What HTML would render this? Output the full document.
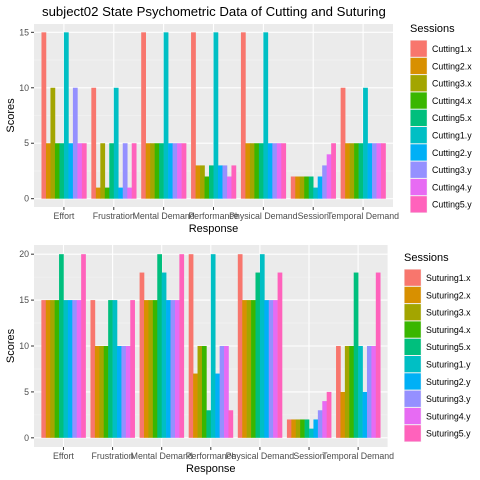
<!DOCTYPE html>
<html><head><meta charset="utf-8"><style>
body{margin:0;background:#fff}
svg{display:block;font-family:"Liberation Sans",sans-serif}
</style></head><body>
<svg id="c" width="480" height="480" xmlns="http://www.w3.org/2000/svg"></svg>
<script>
const categories=["Effort","Frustration","Mental Demand","Performance","Physical Demand","Session","Temporal Demand"];
const cuttingSeries=["Cutting1.x","Cutting2.x","Cutting3.x","Cutting4.x","Cutting5.x","Cutting1.y","Cutting2.y","Cutting3.y","Cutting4.y","Cutting5.y"];
const suturingSeries=["Suturing1.x","Suturing2.x","Suturing3.x","Suturing4.x","Suturing5.x","Suturing1.y","Suturing2.y","Suturing3.y","Suturing4.y","Suturing5.y"];
const colors=["#F8766D","#D89000","#A3A500","#39B600","#00BF7D","#00BFC4","#00B0F6","#9590FF","#E76BF3","#FF62BC"];
// per category, values for the 10 series
const cuttingValues=[
[15,5,10,5,5,15,5,10,5,5],
[10,1,5,1,5,10,1,5,1,5],
[15,5,5,5,5,15,5,5,5,5],
[15,3,3,2,3,15,3,3,2,3],
[15,5,5,5,5,15,5,5,5,5],
[2,2,2,2,2,1,2,3,4,5],
[10,5,5,5,5,10,5,5,5,5]];
const suturingValues=[
[15,15,15,15,20,15,15,15,15,20],
[15,10,10,10,15,15,10,10,10,15],
[18,15,15,15,20,18,15,15,15,20],
[20,7,10,10,3,20,7,10,10,3],
[20,15,15,15,18,20,15,15,15,18],
[2,2,2,2,2,1,2,3,4,5],
[10,5,10,10,18,10,5,10,10,18]];
const cuttingTicks=[0,5,10,15];
const suturingTicks=[0,5,10,15,20];

const svg=document.getElementById('c');
const NS="http://www.w3.org/2000/svg";
function mk(t,a,p){const e=document.createElementNS(NS,t);for(const k in a)e.setAttribute(k,a[k]);(p||svg).appendChild(e);return e;}

function panel(name,vals,series,ticks,ymax,L,R,T,B,legX,legY){
  const g=mk('g',{});
  
  
  const n=categories.length;
  const step=(R-L)/(n+0.2);
  const xc=i=>L+step*(0.6+i);
  const ylo=-ymax*0.05, yhi=ymax*1.05;
  const y=v=>B-(v-ylo)/(yhi-ylo)*(B-T);
  mk('rect',{x:L,y:T,width:R-L,height:B-T,fill:'#EBEBEB'},g);
  // minor grid
  for(let i=0;i<ticks.length-1;i++){const v=(ticks[i]+ticks[i+1])/2;mk('line',{x1:L,x2:R,y1:y(v),y2:y(v),stroke:'#F5F5F5','stroke-width':0.6},g);}
  ticks.forEach(v=>{
    mk('line',{x1:L,x2:R,y1:y(v),y2:y(v),stroke:'#fff','stroke-width':1.1},g);
    mk('line',{x1:L-3,x2:L,y1:y(v),y2:y(v),stroke:'#333','stroke-width':1},g);
    const t=mk('text',{x:L-5,y:y(v)+3,'text-anchor':'end','font-size':8.8,fill:'#4D4D4D'},g);
    t.textContent=v;
    
    
  });
  categories.forEach((c,i)=>{
    mk('line',{x1:xc(i),x2:xc(i),y1:T,y2:B,stroke:'#fff','stroke-width':1.1},g);
    mk('line',{x1:xc(i),x2:xc(i),y1:B,y2:B+3,stroke:'#333','stroke-width':1},g);
    const t=mk('text',{x:xc(i),y:B+12,'text-anchor':'middle','font-size':8.8,fill:'#4D4D4D'},g);
    t.textContent=c;
    
    
  });
  const bw=step*0.9/series.length;
  vals.forEach((row,i)=>{
    row.forEach((v,j)=>{
      const x0=xc(i)-step*0.45+j*bw;
      const r=mk('rect',{x:x0,y:y(v),width:bw+0.3,height:y(0)-y(v),fill:colors[j]},g);
      
      
    });
  });
  const xt=mk('text',{x:(L+R)/2,y:B+25,'text-anchor':'middle','font-size':11,fill:'#000'},g);
  xt.textContent='Response';
  
  
  const yt=mk('text',{x:0,y:0,'text-anchor':'middle','font-size':11,fill:'#000',transform:`translate(14,${(T+B)/2}) rotate(-90)`},g);
  yt.textContent='Scores';
  
  
  // legend
  const lg=mk('g',{},g);
  
  
  const lt=mk('text',{x:legX,y:legY,'font-size':11,fill:'#000'},lg);
  lt.textContent='Sessions';
  
  
  series.forEach((s,j)=>{
    const ky=legY+8+j*17.3;
    mk('rect',{x:legX,y:ky,width:17.3,height:17.3,fill:'#F2F2F2'},lg);
    const k=mk('rect',{x:legX+0.5,y:ky+0.5,width:16.3,height:16.3,fill:colors[j]},lg);
    
    
    const t=mk('text',{x:legX+22,y:ky+12,'font-size':8.8,fill:'#000'},lg);
    t.textContent=s;
    
    
  });
}
const title=mk('text',{x:42,y:16,'font-size':13.2,fill:'#000'});
title.textContent='subject02 State Psychometric Data of Cutting and Suturing';


panel('cutting',cuttingValues,cuttingSeries,cuttingTicks,15,34,393,24,207,410,32);
panel('suturing',suturingValues,suturingSeries,suturingTicks,20,34,387.6,245,447,404,261);
</script>
</body></html>
